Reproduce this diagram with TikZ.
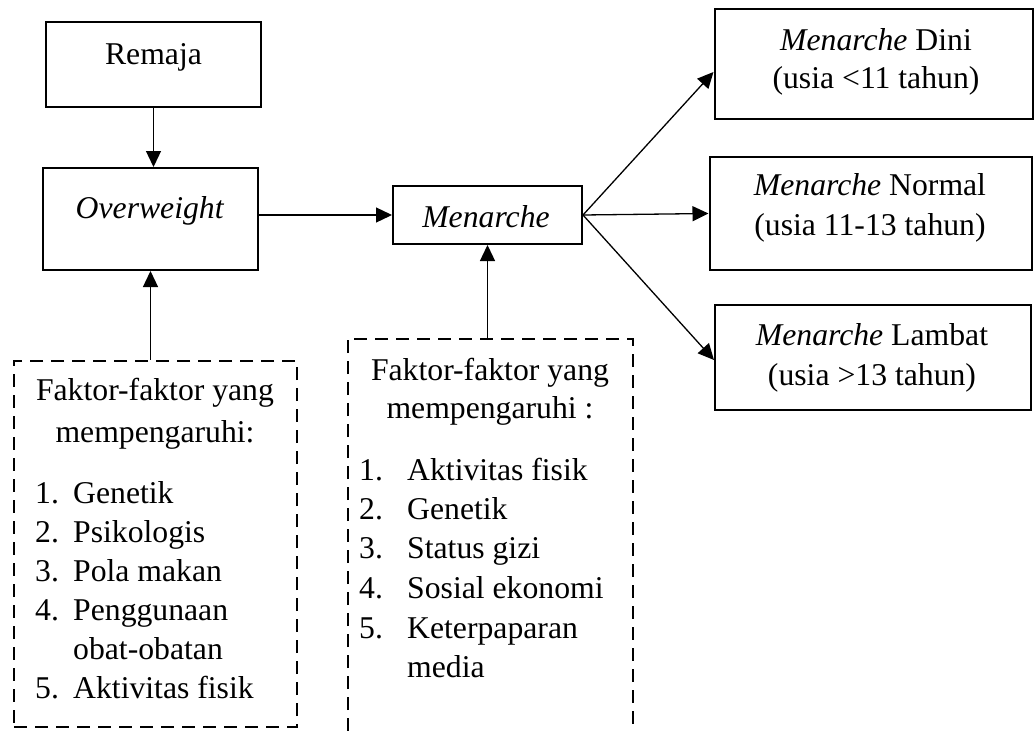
\documentclass[tikz,border=0pt]{standalone}
\usepackage{fontspec}
\setmainfont{Liberation Serif}
\usetikzlibrary{arrows.meta,calc}
\tikzset{
  box/.style={draw, line width=2pt, rectangle, inner sep=0pt},
  txt/.style={inner sep=0pt, anchor=base, font=\fontsize{31.7}{39}\selectfont},
  txtl/.style={txt, anchor=base west},
  arr/.style={line width=1.3pt, -{Triangle[length=16pt,width=15pt]}},
  dbox/.style={line width=2.3pt, dash pattern=on 13pt off 8pt},
  frame/.style={rectangle, inner sep=0pt, draw=none},
}
\begin{document}
\begin{tikzpicture}[x=1pt,y=1pt]
\useasboundingbox (0,0) rectangle (1034,-731);

% boxes
\node[box, minimum width=215, minimum height=85] (remaja) at (153.5,-64.5) {};
\node[box, minimum width=215, minimum height=102] (ow) at (150.5,-219) {};
\node[box, minimum width=189, minimum height=58] (men) at (487.5,-215) {};
\node[box, minimum width=318, minimum height=110] (dini) at (873.5,-64) {};
\node[box, minimum width=322, minimum height=113] (normal) at (870.5,-213.5) {};
\node[box, minimum width=316, minimum height=105] (lambat) at (873,-357.5) {};

% box texts
\node[txt] (tremaja) at (153.5,-64) {Remaja};
\node[txt] (tow) at (150,-218) {\textit{Overweight}};
\node[txt] (tmen) at (486,-227) {\textit{Menarche}};
\node[txt] (tdini1) at (876,-50) {\textit{Menarche} Dini};
\node[txt] (tdini2) at (876,-88) {(usia <11 tahun)};
\node[txt] (tnorm1) at (870,-195) {\textit{Menarche} Normal};
\node[txt] (tnorm2) at (870,-235) {(usia 11-13 tahun)};
\node[txt] (tlam1) at (872,-345) {\textit{Menarche} Lambat};
\node[txt] (tlam2) at (872,-385) {(usia >13 tahun)};

% left dashed box
\node[frame, draw, dbox, minimum width=283, minimum height=366] (f1) at (155.5,-544) {};
\node[txt] (f1a) at (155,-400) {Faktor-faktor yang};
\node[txt] (f1b) at (155,-442) {mempengaruhi:};
\node[txtl] (f1n1) at (35,-503) {1.};
\node[txtl] (f1t1) at (73,-503) {Genetik};
\node[txtl] (f1n2) at (35,-542) {2.};
\node[txtl] (f1t2) at (73,-542) {Psikologis};
\node[txtl] (f1n3) at (35,-581) {3.};
\node[txtl] (f1t3) at (73,-581) {Pola makan};
\node[txtl] (f1n4) at (35,-620) {4.};
\node[txtl] (f1t4) at (73,-620) {Penggunaan};
\node[txtl] (f1t4b) at (73,-659) {obat-obatan};
\node[txtl] (f1n5) at (35,-698) {5.};
\node[txtl] (f1t5) at (73,-698) {Aktivitas fisik};

% middle dashed box (open at the bottom)
\node[frame, minimum width=285, minimum height=392] (f2) at (490.5,-535) {};
\draw[dbox] (f2.south west) -- (f2.north west) -- (f2.north east) -- (f2.south east);
\node[txt] (f2a) at (490,-380) {Faktor-faktor yang};
\node[txt] (f2b) at (490,-418) {mempengaruhi :};
\node[txtl] (f2n1) at (359,-480) {1.};
\node[txtl] (f2t1) at (407,-480) {Aktivitas fisik};
\node[txtl] (f2n2) at (359,-519.5) {2.};
\node[txtl] (f2t2) at (407,-519.5) {Genetik};
\node[txtl] (f2n3) at (359,-558.5) {3.};
\node[txtl] (f2t3) at (407,-558.5) {Status gizi};
\node[txtl] (f2n4) at (359,-598) {4.};
\node[txtl] (f2t4) at (407,-598) {Sosial ekonomi};
\node[txtl] (f2n5) at (359,-638) {5.};
\node[txtl] (f2t5) at (407,-638) {Keterpaparan};
\node[txtl] (f2t5b) at (407,-677) {media};

% connectors
\draw[arr] (remaja.south) -- (remaja.south |- ow.north);
\draw[arr] (ow.east |- men.west) -- (men.west);
\draw[arr] (ow.south |- f1.north) -- (ow.south);
\draw[arr] (men.south |- f2.north) -- (men.south);
\draw[arr] (men.east) -- ($(dini.west)+(0,-8)$);
\draw[arr] (men.east) -- (normal.west);
\draw[arr] (men.east) -- ($(lambat.west)+(0,-2.5)$);
\end{tikzpicture}
\end{document}
